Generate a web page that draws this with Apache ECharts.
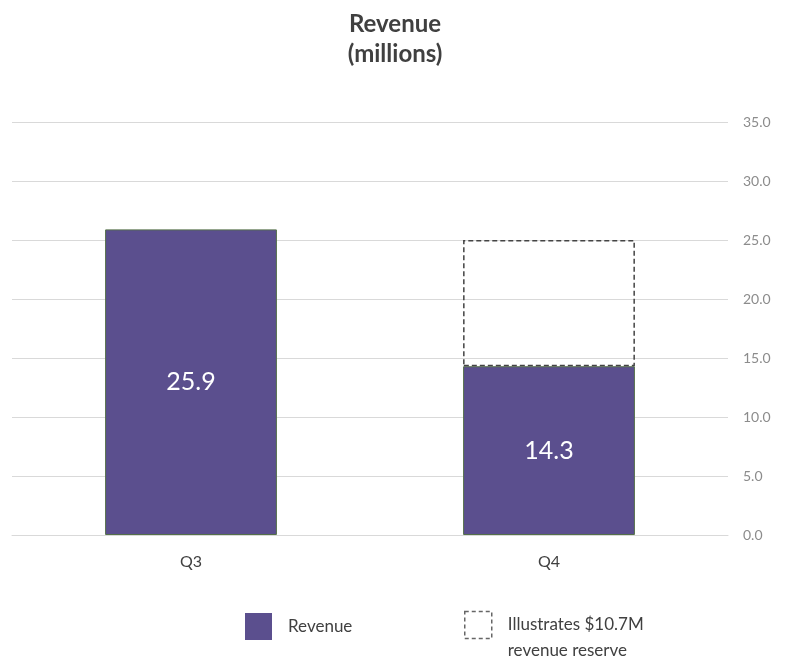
<!DOCTYPE html>
<html>
<head>
<meta charset="utf-8">
<script src="https://cdn.jsdelivr.net/npm/echarts@6/dist/echarts.min.js"></script>
<style>
  html, body { margin: 0; padding: 0; background: #fff; }
  #chart { width: 790px; height: 667px; }
</style>
</head>
<body>
<div id="chart"></div>
<script>
// data
const quarters = ['Q3', 'Q4']
const revenue = [25.9, 14.3]
const reserve = ['-', 10.7]
const yTicks = { min: 0, max: 35, interval: 5 }

const FONT = 'Lato, "Noto Sans", sans-serif'
const chart = echarts.init(document.getElementById('chart'))

chart.setOption({
  textStyle: { fontFamily: FONT },
  animation: false,
  title: {
    text: 'Revenue\n(millions)',
    left: 'center',
    top: 4,
    textStyle: { fontSize: 24, fontWeight: 'bold', color: '#404040', lineHeight: 30, fontFamily: FONT }
  },
  grid: { left: 12, right: 62, top: 122, bottom: 132 },
  // 两个图例分开摆放
  legend: [
    {
      data: ['Revenue'],
      left: 240, top: 608,
      itemWidth: 27, itemHeight: 27,
      icon: 'rect',
      selectedMode: false,
      itemStyle: { borderWidth: 0 },
      textStyle: { fontSize: 17, color: '#404040', padding: [0, 0, 0, 11] }
    },
    {
      data: ['Reserve'],
      left: 459, top: 581,
      itemWidth: 27, itemHeight: 27,
      icon: 'rect',
      selectedMode: false,
      itemStyle: { color: 'rgba(255,255,255,0)', borderColor: '#666', borderWidth: 1.5, borderType: [4, 3] },
      // 第一行留空，让文字第一行对齐图标中线
      formatter: () => ' \nIllustrates $10.7M\nrevenue reserve',
      textStyle: { fontSize: 17, color: '#404040', lineHeight: 26, padding: [0, 0, 0, 11] }
    }
  ],
  xAxis: {
    type: 'category',
    data: quarters,
    axisLine: { lineStyle: { color: '#d9d9d9' } },
    axisTick: { show: false },
    axisLabel: { color: '#404040', fontSize: 16, margin: 19 }
  },
  yAxis: {
    type: 'value',
    position: 'right',
    min: yTicks.min,
    max: yTicks.max,
    interval: yTicks.interval,
    axisLine: { show: false },
    axisTick: { show: false },
    axisLabel: { color: '#8c8c8c', fontSize: 14, margin: 15, formatter: v => v.toFixed(1) },
    splitLine: { lineStyle: { color: '#d9d9d9' } }
  },
  series: [
    {
      name: 'Revenue',
      type: 'bar',
      stack: 'total',
      barWidth: '48%',
      data: revenue,
      itemStyle: { color: '#5b4f8e', borderColor: '#55704a', borderWidth: 1 },
      label: {
        show: true,
        position: 'inside',
        color: '#fff',
        fontSize: 25,
        formatter: p => p.value.toFixed(1)
      }
    },
    {
      name: 'Reserve',
      type: 'bar',
      stack: 'total',
      barWidth: '48%',
      data: reserve,
      itemStyle: {
        color: 'rgba(255,255,255,0)',
        borderColor: '#444',
        borderWidth: 1.5,
        borderType: [5, 3]
      }
    }
  ]
})
</script>
</body>
</html>
